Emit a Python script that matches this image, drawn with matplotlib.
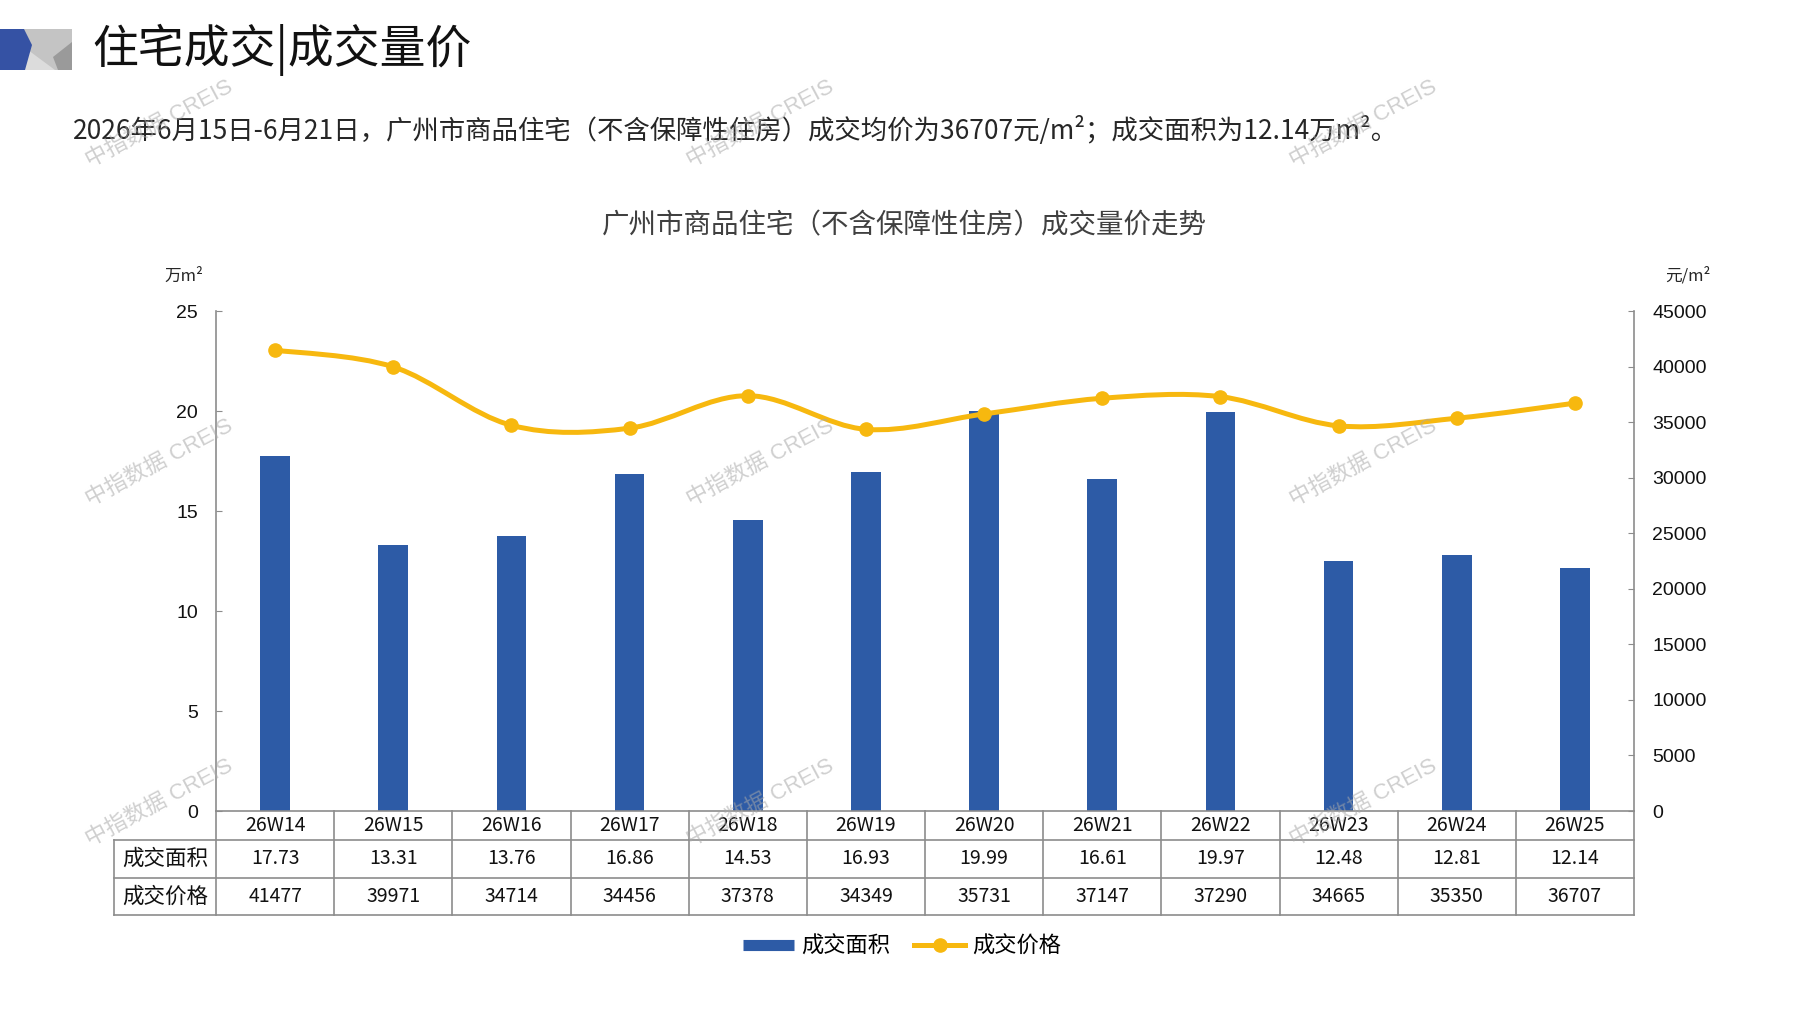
import numpy as np
import matplotlib.pyplot as plt
from matplotlib.path import Path
from matplotlib.patches import PathPatch, Polygon
from matplotlib.lines import Line2D
from matplotlib.transforms import blended_transform_factory

plt.rcParams['font.family'] = ['Noto Sans CJK SC', 'DejaVu Sans']

# ---- data ----
weeks = ["26W14", "26W15", "26W16", "26W17", "26W18", "26W19",
         "26W20", "26W21", "26W22", "26W23", "26W24", "26W25"]
area = [17.73, 13.31, 13.76, 16.86, 14.53, 16.93,
        19.99, 16.61, 19.97, 12.48, 12.81, 12.14]
price = [41477, 39971, 34714, 34456, 37378, 34349,
         35731, 37147, 37290, 34665, 35350, 36707]
area_ticks = [0, 5, 10, 15, 20, 25]
price_ticks = list(range(0, 45001, 5000))
row_names = ["成交面积", "成交价格"]
area_labels = ["17.73", "13.31", "13.76", "16.86", "14.53", "16.93",
               "19.99", "16.61", "19.97", "12.48", "12.81", "12.14"]

BLUE = "#2D5BA6"
YELLOW = "#F7B80F"
GRID = "#8C8C8C"

W, H = 1797, 1010
fig = plt.figure(figsize=(W / 100, H / 100), dpi=100)


def fx(px):
    return px / W


def fy(py):
    return 1 - py / H


# ---- header decoration ----
def poly(pts, color):
    fig.patches.append(Polygon([(fx(x), fy(y)) for x, y in pts], closed=True,
                               transform=fig.transFigure, color=color, lw=0))

poly([(24, 29), (72, 29), (72, 70), (24, 70)], "#C4C4C4")
poly([(28, 50), (55, 70), (24, 70)], "#DCDCDC")
poly([(53, 57), (72, 42), (72, 70), (58, 70)], "#9A9A9A")
poly([(0, 29), (24, 29), (32, 45), (25, 70), (0, 70)], "#3552A4")

fig.text(fx(92), fy(50), "住宅成交|成交量价", fontsize=33, va="center", ha="left", color="#111111")
fig.text(fx(73), fy(130),
         "2026年6月15日-6月21日，广州市商品住宅（不含保障性住房）成交均价为36707元/m²；成交面积为12.14万m²。",
         fontsize=19, va="center", ha="left", color="#262626")
fig.text(fx(904), fy(226), "广州市商品住宅（不含保障性住房）成交量价走势",
         fontsize=19.8, va="center", ha="center", color="#404040")
fig.text(fx(184), fy(276), "万m²", fontsize=12, va="center", ha="center", color="#262626")
fig.text(fx(1688), fy(276), "元/m²", fontsize=12, va="center", ha="center", color="#262626")

# ---- main axes ----
L, R, T, B = 216, 1634, 311, 811
ax = fig.add_axes([fx(L), fy(B), (R - L) / W, (B - T) / H])
x = np.arange(len(weeks))
ax.bar(x, area, width=0.25, color=BLUE, zorder=2)
ax.set_xlim(-0.5, len(weeks) - 0.5)
ax.set_ylim(0, 25)
ax.set_yticks(area_ticks)
ax.set_xticks([])
for s in ["top", "right"]:
    ax.spines[s].set_visible(False)
for s in ["left", "bottom"]:
    ax.spines[s].set_color(GRID)
    ax.spines[s].set_linewidth(1.2)
ax.tick_params(axis="y", direction="in", length=4, color=GRID, pad=13,
               labelsize=14, labelcolor="#111111")
for lab in ax.get_yticklabels():
    lab.set_fontfamily(["Liberation Sans", "DejaVu Sans"])

ax2 = ax.twinx()
ax2.set_ylim(0, 45000)
ax2.set_yticks(price_ticks)
for s in ["top", "left", "bottom"]:
    ax2.spines[s].set_visible(False)
ax2.spines["right"].set_color(GRID)
ax2.spines["right"].set_linewidth(1.2)
ax2.tick_params(axis="y", direction="in", length=4, color=GRID, pad=13,
                labelsize=14, labelcolor="#111111")
for lab in ax2.get_yticklabels():
    lab.set_fontfamily(["Liberation Sans", "DejaVu Sans"])

# smoothed price line (Excel-style bezier through the points)
pts = np.column_stack([x, np.array(price, dtype=float)])
verts = [pts[0]]
codes = [Path.MOVETO]
n = len(pts)
for i in range(n - 1):
    p0, p1 = pts[max(i - 1, 0)], pts[i]
    p2, p3 = pts[i + 1], pts[min(i + 2, n - 1)]
    verts += [p1 + (p2 - p0) / 6, p2 - (p3 - p1) / 6, p2]
    codes += [Path.CURVE4] * 3
ax2.add_patch(PathPatch(Path(verts, codes), fill=False, ec=YELLOW, lw=3.6,
                        capstyle="round", joinstyle="round", zorder=3))
ax2.plot(x, price, "o", ms=9.5, color=YELLOW, zorder=4)

# ---- data table under the axis ----
def ay(py):
    return (B - py) / (B - T)

rows_y = [811, 840, 878, 915]
left_x = (114 - L) / (R - L)
tr = blended_transform_factory(ax.transData, ax.transAxes)
lkw = dict(color=GRID, lw=1.2, clip_on=False)
for k in range(len(weeks) + 1):
    ax.add_line(Line2D([k - 0.5, k - 0.5], [ay(rows_y[0]), ay(rows_y[-1])], transform=tr, **lkw))
for py in rows_y[1:]:
    ax.add_line(Line2D([left_x, 1], [ay(py), ay(py)], transform=ax.transAxes, **lkw))
ax.add_line(Line2D([left_x, left_x], [ay(rows_y[1]), ay(rows_y[-1])], transform=ax.transAxes, **lkw))

cell_font = ["Noto Sans CJK SC", "DejaVu Sans"]
for i, wk in enumerate(weeks):
    ax.text(i, ay((rows_y[0] + rows_y[1]) / 2), wk, transform=tr, ha="center", va="center",
            fontsize=14, color="#111111", family=cell_font)
    ax.text(i, ay((rows_y[1] + rows_y[2]) / 2), area_labels[i], transform=tr, ha="center",
            va="center", fontsize=14, color="#111111", family=cell_font)
    ax.text(i, ay((rows_y[2] + rows_y[3]) / 2), str(price[i]), transform=tr, ha="center",
            va="center", fontsize=14, color="#111111", family=cell_font)
for j, name in enumerate(row_names):
    ax.text((left_x + 0) / 2, ay((rows_y[j + 1] + rows_y[j + 2]) / 2), name,
            transform=ax.transAxes, ha="center", va="center", fontsize=15.5, color="#111111")

# ---- legend ----
handles = [Line2D([], [], color=BLUE, lw=8, solid_capstyle="butt"),
           Line2D([], [], color=YELLOW, lw=3.6, marker="o", ms=9.5)]
fig.legend(handles, row_names, loc="center", bbox_to_anchor=(fx(902), fy(946)),
           ncol=2, frameon=False, fontsize=16, handlelength=2.3,
           handletextpad=0.3, columnspacing=1.1)

# ---- watermarks ----
for wx in (159, 760, 1363):
    for wy in (124, 463, 803):
        fig.text(fx(wx), fy(wy), "中指数据 CREIS", rotation=28, fontsize=16,
                 color="#A8A8A8", alpha=0.55, ha="center", va="center",
                 family=["Liberation Sans", "Noto Sans CJK SC"], zorder=10)

fig.savefig("out.png", dpi=100)
